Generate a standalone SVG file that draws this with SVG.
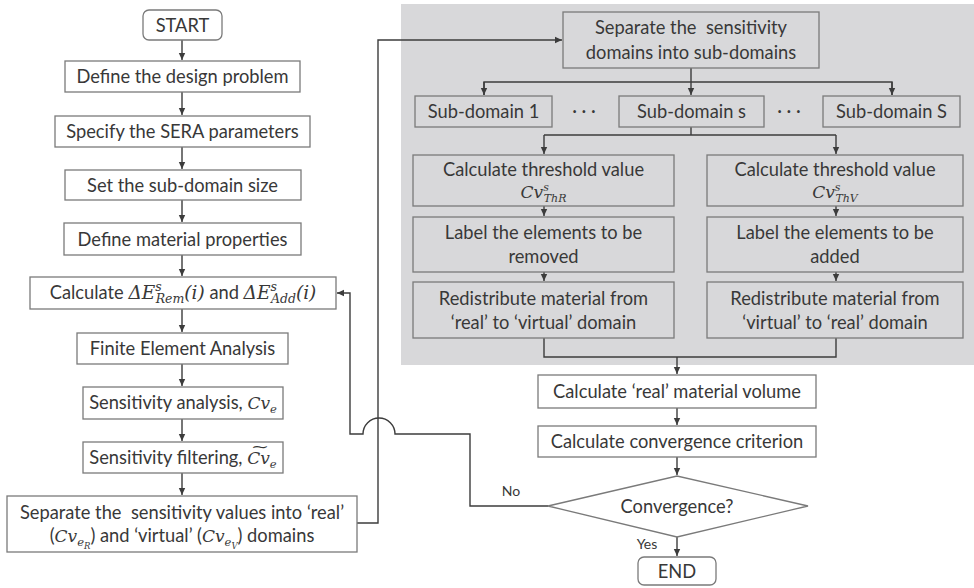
<svg xmlns="http://www.w3.org/2000/svg" width="974" height="588" viewBox="0 0 974 588">
<style>
.bx{fill:#ffffff;stroke:#7a7a7a;stroke-width:1.3}
.gb{fill:none;stroke:#7a7a7a;stroke-width:1.3}
.t{font-family:Lato,"Open Sans","Liberation Sans",sans-serif;font-size:18.3px;fill:#383838;text-anchor:middle;white-space:pre}
.s{font-family:Lato,"Open Sans","Liberation Sans",sans-serif;font-size:14px;fill:#383838;text-anchor:middle}
.m{font-family:"DejaVu Serif","Liberation Serif",serif;font-style:italic}
.ln{fill:none;stroke:#3c3c3c;stroke-width:1.4}
</style>
<defs>
<marker id="ah" markerUnits="userSpaceOnUse" markerWidth="8" markerHeight="8" refX="7" refY="4" orient="auto">
<path d="M0,0.8 L7,4 L0,7.2 Z" fill="#3c3c3c"/>
</marker>
</defs>
<rect x="401" y="4" width="573" height="361" fill="#d8d8da"/>
<g id="connectors">
<path class="ln" d="M182 40 V60" marker-end="url(#ah)"/>
<path class="ln" d="M182 92 V115" marker-end="url(#ah)"/>
<path class="ln" d="M182 147 V169" marker-end="url(#ah)"/>
<path class="ln" d="M182 200 V222" marker-end="url(#ah)"/>
<path class="ln" d="M182 255 V276" marker-end="url(#ah)"/>
<path class="ln" d="M182 309 V332" marker-end="url(#ah)"/>
<path class="ln" d="M182 364 V386" marker-end="url(#ah)"/>
<path class="ln" d="M182 419 V441" marker-end="url(#ah)"/>
<path class="ln" d="M182 473 V495" marker-end="url(#ah)"/>
<path class="ln" d="M357 523 H378 V40 H562" marker-end="url(#ah)"/>
<path class="ln" d="M691 68 V95" marker-end="url(#ah)"/>
<path class="ln" d="M484 95 V82 H892 V95" />
<path class="ln" d="M484 82 V95" marker-end="url(#ah)"/>
<path class="ln" d="M892 82 V95" marker-end="url(#ah)"/>
<path class="ln" d="M691 127 V135 H544 M691 135 H836"/>
<path class="ln" d="M544 135 V154" marker-end="url(#ah)"/>
<path class="ln" d="M836 135 V154" marker-end="url(#ah)"/>
<path class="ln" d="M544 206 V216" marker-end="url(#ah)"/>
<path class="ln" d="M836 206 V216" marker-end="url(#ah)"/>
<path class="ln" d="M544 272 V281" marker-end="url(#ah)"/>
<path class="ln" d="M836 272 V281" marker-end="url(#ah)"/>
<path class="ln" d="M544 338 V357 H836 V338"/>
<path class="ln" d="M677 357 V374" marker-end="url(#ah)"/>
<path class="ln" d="M677 408 V425" marker-end="url(#ah)"/>
<path class="ln" d="M677 457 V475" marker-end="url(#ah)"/>
<path class="ln" d="M677 537 V556" marker-end="url(#ah)"/>
<path class="ln" d="M548 506 H470 V434 H395 A16 16 0 0 0 363 434 H350 V293 H337" marker-end="url(#ah)"/>
<text class="s" x="511" y="496">No</text>
<text class="s" x="647" y="549">Yes</text>
</g>
<g id="start"><rect class="bx" x="143" y="10" width="79" height="30" rx="6"/><text class="t" x="182.5" y="31.5">START</text></g>
<g id="define-problem"><rect class="bx" x="65" y="61" width="235" height="31"/><text class="t" x="182.5" y="83">Define the design problem</text></g>
<g id="sera-params"><rect class="bx" x="55" y="116" width="255" height="31"/><text class="t" x="182.5" y="138">Specify the SERA parameters</text></g>
<g id="subdomain-size"><rect class="bx" x="65" y="170" width="236" height="30"/><text class="t" x="182.5" y="191.5">Set the sub-domain size</text></g>
<g id="material"><rect class="bx" x="64" y="223" width="237" height="32"/><text class="t" x="182.5" y="245.5">Define material properties</text></g>
<g id="calc-de"><rect class="bx" x="30" y="277" width="306" height="32"/><text class="t" x="183" y="299">Calculate <tspan class="m" font-size="18.5">ΔE</tspan><tspan class="m" font-size="12.5" dy="-8">s</tspan><tspan class="m" font-size="12.5" dx="-6" dy="12">Rem</tspan><tspan class="m" font-size="18.5" dy="-4">(i)</tspan> and <tspan class="m" font-size="18.5">ΔE</tspan><tspan class="m" font-size="12.5" dy="-8">s</tspan><tspan class="m" font-size="12.5" dx="-6" dy="12">Add</tspan><tspan class="m" font-size="18.5" dy="-4">(i)</tspan></text></g>
<g id="fea"><rect class="bx" x="77" y="333" width="211" height="31"/><text class="t" x="182.5" y="355">Finite Element Analysis</text></g>
<g id="sens-analysis"><rect class="bx" x="83" y="387" width="200" height="32"/><text class="t" x="183" y="409">Sensitivity analysis, <tspan class="m" font-size="17">Cv</tspan><tspan class="m" font-size="11.5" dy="4">e</tspan></text></g>
<g id="sens-filter"><rect class="bx" x="83" y="442" width="200" height="31"/><text class="t" x="183" y="464">Sensitivity filtering, <tspan class="m" font-size="17">Cv</tspan><tspan class="m" font-size="11.5" dy="4">e</tspan></text><text class="m" x="260" y="451" font-size="13" fill="#383838" text-anchor="middle" transform="translate(260 0) scale(1.7 1) translate(-260 0)">~</text></g>
<g id="separate-values"><rect class="bx" x="7" y="496" width="350" height="56"/><text class="t" x="182" y="519">Separate the  sensitivity values into ‘real’</text><text class="t" x="182" y="542">(<tspan class="m" font-size="17">Cv</tspan><tspan class="m" font-size="11.5" dy="4">e</tspan><tspan class="m" font-size="8.5" dy="3">R</tspan><tspan dy="-7">) and ‘virtual’ (</tspan><tspan class="m" font-size="17">Cv</tspan><tspan class="m" font-size="11.5" dy="4">e</tspan><tspan class="m" font-size="8.5" dy="3">V</tspan><tspan dy="-7">) domains</tspan></text></g>
<g id="separate-domains"><rect class="gb" x="563" y="12" width="256" height="56"/><text class="t" x="691" y="34">Separate the  sensitivity</text><text class="t" x="691" y="59">domains into sub-domains</text></g>
<g id="sub-1"><rect class="gb" x="415" y="96" width="137" height="31"/><text class="t" x="483.5" y="118">Sub-domain 1</text></g>
<g id="dots-1"><text class="t" x="584" y="117">· · ·</text></g>
<g id="sub-s"><rect class="gb" x="619" y="96" width="145" height="31"/><text class="t" x="691.5" y="118">Sub-domain s</text></g>
<g id="dots-2"><text class="t" x="789" y="117">· · ·</text></g>
<g id="sub-S"><rect class="gb" x="823" y="96" width="137" height="31"/><text class="t" x="891.5" y="118">Sub-domain S</text></g>
<g id="thr-R"><rect class="gb" x="413" y="155" width="261" height="51"/><text class="t" x="543.5" y="176">Calculate threshold value</text><text x="543.5" y="198" class="t"><tspan class="m" font-size="17">Cv</tspan><tspan class="m" font-size="11" dy="-7">s</tspan><tspan class="m" font-size="11" dx="-5" dy="11">ThR</tspan></text></g>
<g id="thr-V"><rect class="gb" x="707" y="155" width="256" height="51"/><text class="t" x="835" y="176">Calculate threshold value</text><text x="835" y="198" class="t"><tspan class="m" font-size="17">Cv</tspan><tspan class="m" font-size="11" dy="-7">s</tspan><tspan class="m" font-size="11" dx="-5" dy="11">ThV</tspan></text></g>
<g id="label-R"><rect class="gb" x="413" y="217" width="261" height="55"/><text class="t" x="543.5" y="239">Label the elements to be</text><text class="t" x="543.5" y="263">removed</text></g>
<g id="label-V"><rect class="gb" x="707" y="217" width="256" height="55"/><text class="t" x="835" y="239">Label the elements to be</text><text class="t" x="835" y="263">added</text></g>
<g id="redis-R"><rect class="gb" x="413" y="282" width="261" height="56"/><text class="t" x="543.5" y="305">Redistribute material from</text><text class="t" x="543.5" y="329">‘real’ to ‘virtual’ domain</text></g>
<g id="redis-V"><rect class="gb" x="707" y="282" width="256" height="56"/><text class="t" x="835" y="305">Redistribute material from</text><text class="t" x="835" y="329">‘virtual’ to ‘real’ domain</text></g>
<g id="real-volume"><rect class="bx" x="538" y="375" width="278" height="33"/><text class="t" x="677" y="397.5">Calculate ‘real’ material volume</text></g>
<g id="conv-criterion"><rect class="bx" x="538" y="426" width="278" height="31"/><text class="t" x="677" y="448">Calculate convergence criterion</text></g>
<g id="convergence"><path class="bx" d="M548 506 L677 476 L808 506 L677 537 Z"/><text class="t" x="677" y="512.5">Convergence?</text></g>
<g id="end"><rect class="bx" x="638" y="557" width="78" height="28" rx="6"/><text class="t" x="677" y="577.5">END</text></g>
</svg>
